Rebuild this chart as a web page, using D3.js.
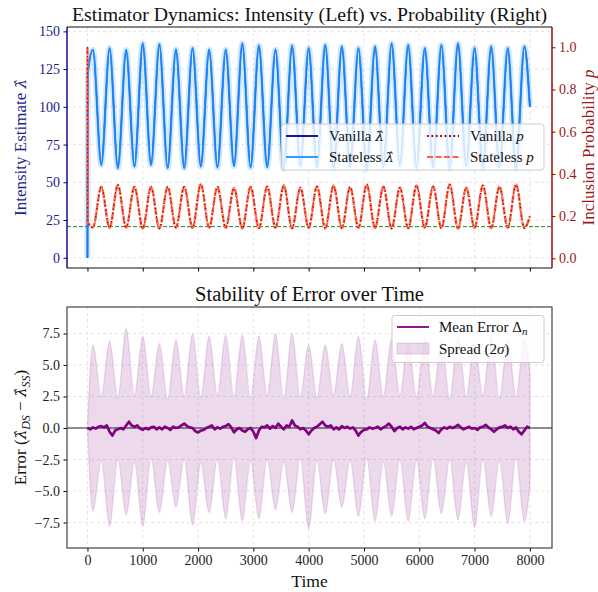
<!DOCTYPE html>
<html>
<head>
<meta charset="utf-8">
<script src="https://cdn.jsdelivr.net/npm/d3@7"></script>
<style>
  body { margin: 0; background: #fff; }
  svg text { font-family: 'Liberation Serif', 'DejaVu Serif', serif; }
  .math { font-family: 'DejaVu Serif', serif; font-style: italic; }
</style>
</head>
<body>
<div id="chart"></div>
<script>
// ---- data ----
// top panel: intensity estimate, extrema of each cycle
const peakTimes = [100, 400, 700, 1000, 1300, 1600, 1900, 2200, 2500, 2800, 3100, 3400, 3700, 4000,
    4300, 4600, 4900, 5200, 5500, 5800, 6100, 6400, 6700, 7000, 7300, 7600, 7900];
const troughTimes = [250, 550, 850, 1150, 1450, 1750, 2050, 2350, 2650, 2950, 3250, 3550, 3850,
    4150, 4450, 4750, 5050, 5350, 5650, 5950, 6250, 6550, 6850, 7150, 7450, 7750];

const lambdaStart = [[0, 0], [5, 122]];
const lambdaPeaks = [137.7, 139, 137.7, 142, 141.5, 138, 139, 138, 138, 142, 140.6, 138, 140.6,
    139, 141, 140, 139, 140, 142, 141, 139, 141, 142, 139, 140, 139, 140];
const lambdaTroughs = [61.5, 59.3, 60.4, 61.5, 59.5, 59.3, 60.4, 59.8, 60.8, 59.8, 60, 59, 61,
    60, 59.5, 60.5, 59, 60, 61, 59.5, 60, 59, 60.5, 59.5, 60, 59];
const lambdaEnd = [[8000, 100]];

const pStart = [[0, 1.0], [5, 0.17]];
const pAtPeaks = [0.146, 0.144, 0.146, 0.141, 0.141, 0.145, 0.144, 0.145, 0.145, 0.141, 0.142, 0.145,
    0.142, 0.144, 0.142, 0.143, 0.144, 0.143, 0.141, 0.142, 0.144, 0.142, 0.141, 0.144, 0.143, 0.144, 0.143];
const pAtTroughs = [0.339, 0.347, 0.339, 0.339, 0.339, 0.339, 0.352, 0.339, 0.333, 0.339, 0.34, 0.345,
    0.335, 0.34, 0.345, 0.338, 0.35, 0.34, 0.335, 0.345, 0.34, 0.35, 0.335, 0.345, 0.34, 0.35];
const pEnd = [[8000, 0.2]];
const pFloor = 0.15;

// bottom panel: spread band (2 sigma) extrema
const bandStart = [[0, 0, 0]];
const bandUpperPeaks = [6.6, 6.9, 7.9, 7.3, 6.7, 7.0, 7.5, 7.3, 7.4, 7.4, 7.3, 7.5, 7.5, 6.6,
    6.6, 6.7, 7.3, 7.0, 7.1, 6.8, 7.2, 6.9, 7.3, 6.8, 7.3, 7.0, 7.1];
const bandLowerPeaks = [-6.6, -7.8, -6.9, -7.8, -6.7, -6.3, -7.7, -6.7, -7.2, -7.4, -7.2, -6.5, -6.7,
    -8.0, -6.8, -6.3, -7.0, -7.4, -7.0, -7.4, -7.2, -6.8, -7.3, -7.9, -7.0, -7.6, -7.4];
const bandUpperTroughs = [2.5, 2.4, 2.6, 2.5, 2.3, 2.5, 2.4, 2.6, 2.5, 2.4, 2.6, 2.3, 2.5,
    2.4, 2.6, 2.5, 2.3, 2.5, 2.6, 2.4, 2.5, 2.3, 2.5, 2.6, 2.4, 2.5];
const bandLowerTroughs = [-2.6, -2.5, -2.7, -2.4, -2.6, -2.5, -2.8, -2.5, -2.4, -2.6, -2.5, -2.7, -2.4,
    -2.6, -2.5, -2.6, -2.4, -2.7, -2.5, -2.6, -2.4, -2.5, -2.7, -2.5, -2.6, -2.4];
const bandEnd = [[8000, 4.4, -4.6]];

// mean error, one reading every 50 time units
const meanErrStep = 50;
const meanError = [
    0.0, -0.1, 0.05, -0.05, 0.1, 0.15, 0.05, 0.2, -0.3, -0.6, -0.2, -0.1, 0.0, -0.1, 0.2, 0.5,
    0.2, 0.1, 0.2, -0.05, -0.15, 0.0, -0.1, 0.05, 0.1, -0.1, 0.05, -0.1, 0.1, 0.0, -0.15, 0.1,
    0.0, 0.05, 0.2, 0.35, 0.15, 0.05, 0.0, -0.25, -0.35, -0.2, -0.15, 0.0, 0.1, 0.2, -0.1, 0.05,
    -0.05, 0.1, 0.15, 0.3, 0.05, -0.35, -0.1, 0.0, -0.2, -0.3, -0.1, 0.0, -0.3, -0.8, -0.2, 0.1,
    0.05, 0.2, -0.05, 0.15, 0.0, 0.35, 0.1, -0.1, 0.2, 0.1, 0.6, 0.2, 0.1, -0.1, 0.0, -0.2,
    -0.5, -0.2, 0.0, 0.1, 0.3, 0.5, 0.2, 0.1, 0.2, -0.1, 0.05, -0.1, 0.15, 0.0, 0.1, -0.05,
    0.05, -0.2, -0.6, -0.3, -0.15, -0.1, 0.05, -0.05, 0.0, 0.1, -0.1, 0.05, 0.15, 0.35, 0.1, -0.25,
    0.0, 0.1, -0.1, 0.05, -0.05, 0.1, -0.1, 0.0, 0.1, 0.2, 0.4, 0.1, 0.0, -0.1, -0.2, -0.4,
    -0.1, 0.05, -0.05, 0.1, 0.0, 0.1, 0.25, 0.05, -0.1, 0.0, 0.1, -0.05, 0.0, -0.15, 0.05, 0.1,
    0.25, 0.05, -0.1, -0.3, -0.1, 0.05, 0.1, 0.2, 0.0, 0.1, -0.1, 0.05, -0.3, -0.5, -0.2, 0.1, 0.0
];

const xTicks = [0, 1000, 2000, 3000, 4000, 5000, 6000, 7000, 8000];
const lambdaTicks = [0, 25, 50, 75, 100, 125, 150];
const pTicks = [0.0, 0.2, 0.4, 0.6, 0.8, 1.0];
const errTicks = [-7.5, -5.0, -2.5, 0.0, 2.5, 5.0, 7.5];

// ---- layout ----
const WIDTH = 598, HEIGHT = 592;
const TOP = { left: 67, right: 552, top: 27, bottom: 268 };
const BOT = { left: 67, right: 552, top: 307, bottom: 548 };

const C = {
    navy: "#000080", blue: "#1e90ff", darkred: "#8b0000", tomato: "#ff6347",
    purple: "#800080", leftText: "#22228c", rightText: "#9a1a1a"
};
const LAMBDA_HAT = "λ\u0302";

// merge start points, alternating extrema and end points into one sorted series
function buildSeries(start, peaks, troughs, end) {
    const pts = start.slice();
    peakTimes.forEach((t, i) => pts.push([t, peaks[i]]));
    troughTimes.forEach((t, i) => pts.push([t, troughs[i]]));
    return pts.concat(end).sort((a, b) => a[0] - b[0]);
}
const lambdaSeries = buildSeries(lambdaStart, lambdaPeaks, lambdaTroughs, lambdaEnd);
const pSeries = buildSeries(pStart, pAtPeaks, pAtTroughs, pEnd);
const upper = buildSeries(bandStart.map(d => [d[0], d[1]]), bandUpperPeaks, bandUpperTroughs, bandEnd.map(d => [d[0], d[1]]));
const lower = buildSeries(bandStart.map(d => [d[0], d[2]]), bandLowerPeaks, bandLowerTroughs, bandEnd.map(d => [d[0], d[2]]));
const bandSeries = upper.map((d, i) => ({ t: d[0], hi: d[1], lo: lower[i][1] }));
const errSeries = meanError.map((v, i) => [i * meanErrStep, v]);

const svg = d3.select("#chart").append("svg")
    .attr("width", WIDTH).attr("height", HEIGHT);

// scales
const x = d3.scaleLinear().domain([-370, 8400]).range([TOP.left, TOP.right]);
const yL = d3.scaleLinear().domain([-6.8, 152.9]).range([TOP.bottom, TOP.top]);
const yR = d3.scaleLinear().domain([-0.046, 1.096]).range([TOP.bottom, TOP.top]);
const yB = d3.scaleLinear().domain([-9.52, 9.6]).range([BOT.bottom, BOT.top]);

const defs = svg.append("defs");
[["clipTop", TOP], ["clipBot", BOT]].forEach(([id, b]) => {
    defs.append("clipPath").attr("id", id).append("rect")
        .attr("x", b.left).attr("y", b.top)
        .attr("width", b.right - b.left).attr("height", b.bottom - b.top);
});

function grid(g, b, yScale, yVals) {
    const gg = g.append("g").attr("stroke", "#c8c8c8").attr("stroke-opacity", 0.6)
        .attr("stroke-dasharray", "3,3").attr("stroke-width", 0.8);
    xTicks.forEach(t => gg.append("line").attr("x1", x(t)).attr("x2", x(t))
        .attr("y1", b.top).attr("y2", b.bottom));
    yVals.forEach(v => gg.append("line").attr("x1", b.left).attr("x2", b.right)
        .attr("y1", yScale(v)).attr("y2", yScale(v)));
}

// ================= top panel =================
const topG = svg.append("g");
grid(topG, TOP, yL, lambdaTicks);

const plotTop = topG.append("g").attr("clip-path", "url(#clipTop)");
const lineL = d3.line().x(d => x(d[0])).y(d => yL(d[1])).curve(d3.curveMonotoneX);
const lineR = d3.line().x(d => x(d[0])).y(d => yR(d[1])).curve(d3.curveMonotoneX);

// floor of the inclusion probability
plotTop.append("line")
    .attr("x1", TOP.left).attr("x2", TOP.right)
    .attr("y1", yR(pFloor)).attr("y2", yR(pFloor))
    .attr("stroke", "#2e7d32").attr("stroke-width", 1).attr("stroke-dasharray", "4,2");

plotTop.append("path").datum(lambdaSeries).attr("d", lineL)
    .attr("fill", "none").attr("stroke", C.blue).attr("stroke-opacity", 0.2).attr("stroke-width", 6);
plotTop.append("path").datum(lambdaSeries).attr("d", lineL)
    .attr("fill", "none").attr("stroke", C.navy).attr("stroke-width", 1.4);
plotTop.append("path").datum(lambdaSeries).attr("d", lineL)
    .attr("fill", "none").attr("stroke", C.blue).attr("stroke-opacity", 0.88).attr("stroke-width", 2.2);

plotTop.append("path").datum(pSeries).attr("d", lineR)
    .attr("fill", "none").attr("stroke", C.tomato).attr("stroke-width", 2.4)
    .attr("stroke-dasharray", "8,1.5");
plotTop.append("path").datum(pSeries).attr("d", lineR)
    .attr("fill", "none").attr("stroke", C.darkred).attr("stroke-width", 1.2)
    .attr("stroke-dasharray", "1.2,3");

// axes
topG.append("g").attr("transform", `translate(0,${TOP.bottom})`)
    .call(d3.axisBottom(x).tickValues(xTicks).tickFormat("").tickSize(3.5))
    .call(g => g.select(".domain").remove())
    .call(g => g.selectAll("line").attr("stroke", "#000"));

const axL = topG.append("g").attr("transform", `translate(${TOP.left},0)`)
    .call(d3.axisLeft(yL).tickValues(lambdaTicks).tickSize(3.5).tickPadding(3.5));
axL.select(".domain").remove();
axL.selectAll("line").attr("stroke", C.navy);
axL.selectAll("text").attr("fill", C.leftText).attr("font-size", 14)
    .attr("font-family", "'Liberation Serif', serif");

const axR = topG.append("g").attr("transform", `translate(${TOP.right},0)`)
    .call(d3.axisRight(yR).tickValues(pTicks).tickFormat(d3.format(".1f")).tickSize(3.5).tickPadding(3.5));
axR.select(".domain").remove();
axR.selectAll("line").attr("stroke", C.darkred);
axR.selectAll("text").attr("fill", C.rightText).attr("font-size", 14)
    .attr("font-family", "'Liberation Serif', serif");

// spines
topG.append("line").attr("x1", TOP.left).attr("x2", TOP.right).attr("y1", TOP.top).attr("y2", TOP.top)
    .attr("stroke", "#111").attr("stroke-width", 1.2);
topG.append("line").attr("x1", TOP.left).attr("x2", TOP.right).attr("y1", TOP.bottom).attr("y2", TOP.bottom)
    .attr("stroke", "#111").attr("stroke-width", 1.2);
topG.append("line").attr("x1", TOP.left).attr("x2", TOP.left).attr("y1", TOP.top).attr("y2", TOP.bottom)
    .attr("stroke", C.navy).attr("stroke-width", 1.4);
topG.append("line").attr("x1", TOP.right).attr("x2", TOP.right).attr("y1", TOP.top).attr("y2", TOP.bottom)
    .attr("stroke", C.darkred).attr("stroke-width", 1.4);

// titles and labels
svg.append("text").attr("x", (TOP.left + TOP.right) / 2).attr("y", 21)
    .attr("text-anchor", "middle").attr("font-size", 19.8).attr("fill", "#111")
    .text("Estimator Dynamics: Intensity (Left) vs. Probability (Right)");

const ll = svg.append("text").attr("transform", "rotate(-90)")
    .attr("x", -(TOP.top + TOP.bottom) / 2).attr("y", 26)
    .attr("text-anchor", "middle").attr("font-size", 17).attr("fill", C.leftText);
ll.append("tspan").text("Intensity Estimate ");
ll.append("tspan").attr("class", "math").attr("font-size", 15).text(LAMBDA_HAT);

const rl = svg.append("text").attr("transform", "rotate(-90)")
    .attr("x", -(TOP.top + TOP.bottom) / 2).attr("y", 594)
    .attr("text-anchor", "middle").attr("font-size", 17).attr("fill", C.rightText);
rl.append("tspan").text("Inclusion Probability ");
rl.append("tspan").attr("font-style", "italic").text("p");

// legend (top)
const legT = svg.append("g");
legT.append("rect").attr("x", 281.5).attr("y", 124).attr("width", 262.5).attr("height", 46)
    .attr("rx", 3).attr("fill", "#fff").attr("fill-opacity", 0.8)
    .attr("stroke", "#cccccc").attr("stroke-width", 1);
const legItems = [
    { col: 0, row: 0, color: C.navy, dash: null, label: ["Vanilla ", LAMBDA_HAT] },
    { col: 0, row: 1, color: C.blue, dash: null, label: ["Stateless ", LAMBDA_HAT] },
    { col: 1, row: 0, color: C.darkred, dash: "1.8,2.6", label: ["Vanilla ", "p"] },
    { col: 1, row: 1, color: C.tomato, dash: "6,2.5", label: ["Stateless ", "p"] }
];
legItems.forEach(it => {
    const x0 = it.col === 0 ? 286 : 427;
    const yy = it.row === 0 ? 136 : 157;
    legT.append("line").attr("x1", x0).attr("x2", x0 + 32).attr("y1", yy).attr("y2", yy)
        .attr("stroke", it.color).attr("stroke-width", 1.8)
        .attr("stroke-dasharray", it.dash);
    const t = legT.append("text").attr("x", x0 + 43).attr("y", yy + 5)
        .attr("font-size", 15).attr("fill", "#111");
    t.append("tspan").text(it.label[0]);
    if (it.label[1] === "p") t.append("tspan").attr("font-style", "italic").text("p");
    else t.append("tspan").attr("class", "math").attr("font-size", 13.5).text(it.label[1]);
});

// ================= bottom panel =================
const botG = svg.append("g");
grid(botG, BOT, yB, errTicks);
const plotBot = botG.append("g").attr("clip-path", "url(#clipBot)");

const area = d3.area().x(d => x(d.t)).y0(d => yB(d.lo)).y1(d => yB(d.hi)).curve(d3.curveMonotoneX);
plotBot.append("path").datum(bandSeries).attr("d", area)
    .attr("fill", C.purple).attr("fill-opacity", 0.15)
    .attr("stroke", C.purple).attr("stroke-opacity", 0.12).attr("stroke-width", 1.5);

plotBot.append("line").attr("x1", BOT.left).attr("x2", BOT.right)
    .attr("y1", yB(0)).attr("y2", yB(0)).attr("stroke", "#222").attr("stroke-width", 1);

plotBot.append("path").datum(errSeries)
    .attr("d", d3.line().x(d => x(d[0])).y(d => yB(d[1])))
    .attr("fill", "none").attr("stroke", C.purple).attr("stroke-width", 2.7)
    .attr("stroke-linejoin", "round");

const axB = botG.append("g").attr("transform", `translate(0,${BOT.bottom})`)
    .call(d3.axisBottom(x).tickValues(xTicks).tickFormat(d3.format("d")).tickSize(3.5).tickPadding(4));
axB.select(".domain").remove();
axB.selectAll("text").attr("font-size", 14).attr("fill", "#222")
    .attr("font-family", "'Liberation Serif', serif");

const axE = botG.append("g").attr("transform", `translate(${BOT.left},0)`)
    .call(d3.axisLeft(yB).tickValues(errTicks).tickFormat(d3.format(".1f")).tickSize(3.5).tickPadding(3.5));
axE.select(".domain").remove();
axE.selectAll("text").attr("font-size", 14).attr("fill", "#222")
    .attr("font-family", "'Liberation Serif', serif");

botG.append("rect").attr("x", BOT.left).attr("y", BOT.top)
    .attr("width", BOT.right - BOT.left).attr("height", BOT.bottom - BOT.top)
    .attr("fill", "none").attr("stroke", "#444").attr("stroke-width", 1.2);

svg.append("text").attr("x", (BOT.left + BOT.right) / 2).attr("y", 301)
    .attr("text-anchor", "middle").attr("font-size", 20.5).attr("fill", "#111")
    .text("Stability of Error over Time");

svg.append("text").attr("x", (BOT.left + BOT.right) / 2).attr("y", 587)
    .attr("text-anchor", "middle").attr("font-size", 17.5).attr("fill", "#111")
    .text("Time");

const el = svg.append("text").attr("transform", "rotate(-90)")
    .attr("x", -(BOT.top + BOT.bottom) / 2).attr("y", 26)
    .attr("text-anchor", "middle").attr("font-size", 17).attr("fill", "#111");
el.append("tspan").text("Error (");
el.append("tspan").attr("class", "math").attr("font-size", 15).text(LAMBDA_HAT);
el.append("tspan").attr("font-size", 12).attr("font-style", "italic").attr("dy", 4).text("DS");
el.append("tspan").attr("dy", -4).text(" − ");
el.append("tspan").attr("class", "math").attr("font-size", 15).text(LAMBDA_HAT);
el.append("tspan").attr("font-size", 12).attr("font-style", "italic").attr("dy", 4).text("SS");
el.append("tspan").attr("dy", -4).text(")");

// legend (bottom)
const legB = svg.append("g");
legB.append("rect").attr("x", 392).attr("y", 315.5).attr("width", 152).attr("height", 47)
    .attr("rx", 3).attr("fill", "#fff").attr("fill-opacity", 0.8)
    .attr("stroke", "#cccccc").attr("stroke-width", 1);
legB.append("line").attr("x1", 397).attr("x2", 429).attr("y1", 327).attr("y2", 327)
    .attr("stroke", C.purple).attr("stroke-width", 1.8);
const lb1 = legB.append("text").attr("x", 439).attr("y", 332).attr("font-size", 15).attr("fill", "#111");
lb1.append("tspan").text("Mean Error Δ");
lb1.append("tspan").attr("font-size", 11).attr("font-style", "italic").attr("dy", 3).text("n");
legB.append("rect").attr("x", 397).attr("y", 343).attr("width", 32).attr("height", 11)
    .attr("fill", C.purple).attr("fill-opacity", 0.15)
    .attr("stroke", C.purple).attr("stroke-opacity", 0.15);
const lb2 = legB.append("text").attr("x", 439).attr("y", 354).attr("font-size", 15).attr("fill", "#111");
lb2.append("tspan").text("Spread (2");
lb2.append("tspan").attr("font-style", "italic").text("σ");
lb2.append("tspan").text(")");
</script>
</body>
</html>
